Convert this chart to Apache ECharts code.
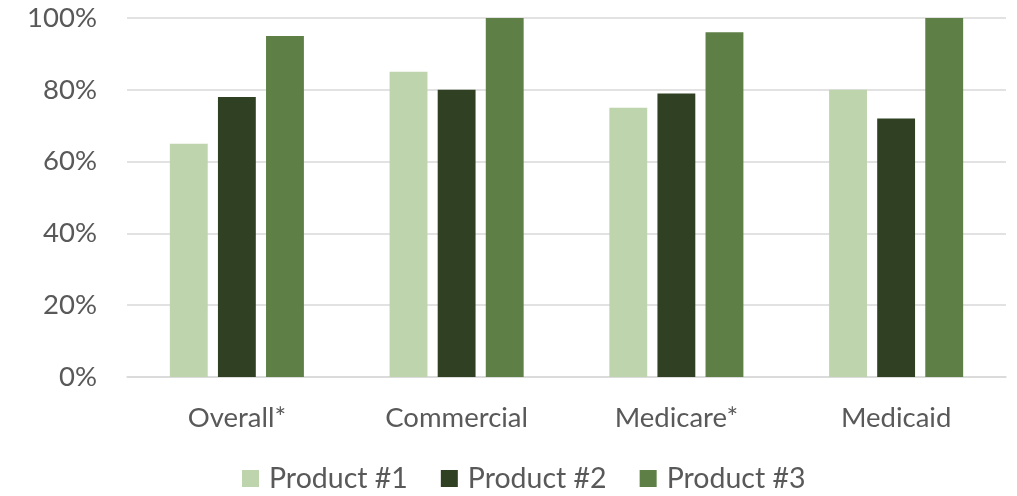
<!DOCTYPE html>
<html><head><meta charset="utf-8">
<script src="https://cdn.jsdelivr.net/npm/echarts@6/dist/echarts.min.js"></script>
<style>html,body{margin:0;padding:0;background:#fff}#c{width:1017px;height:496px}</style>
</head><body><div id="c"></div>
<script>
const categories = ['Overall*', 'Commercial', 'Medicare*', 'Medicaid'];
const product1 = [65, 85, 75, 80];
const product2 = [78, 80, 79, 72];
const product3 = [95, 100, 96, 100];
const seriesNames = ['Product #1', 'Product #2', 'Product #3'];
const colors = ['#BDD4AD', '#304123', '#5E7F46'];
const font = 'Lato, "Open Sans", sans-serif';
const chart = echarts.init(document.getElementById('c'));
chart.setOption({
  animation: false,
  color: colors,
  grid: {left: 127, right: 11, top: 18, bottom: 119, containLabel: false},
  legend: {
    bottom: -2, left: 237, itemWidth: 17, itemHeight: 17, itemGap: 33,
    icon: 'rect',
    textStyle: {fontFamily: font, fontSize: 28.5, color: '#595959', padding: [0,0,0,5]},
    data: seriesNames
  },
  xAxis: {
    type: 'category', data: categories,
    axisLine: {lineStyle: {color: '#D9D9D9', width: 1.5}},
    axisTick: {show: false},
    axisLabel: {fontFamily: font, fontSize: 27.5, color: '#595959', margin: 27}
  },
  yAxis: {
    type: 'value', min: 0, max: 100, interval: 20,
    axisLine: {show: false}, axisTick: {show: false},
    splitLine: {lineStyle: {color: '#D9D9D9', width: 1.5}},
    axisLabel: {fontFamily: font, fontSize: 27.5, color: '#595959', margin: 30, formatter: '{value}%'}
  },
  series: [product1, product2, product3].map((d, i) => ({
    name: seriesNames[i], type: 'bar', data: d,
    barGap: '27%', barCategoryGap: '39%'
  }))
});
</script></body></html>
